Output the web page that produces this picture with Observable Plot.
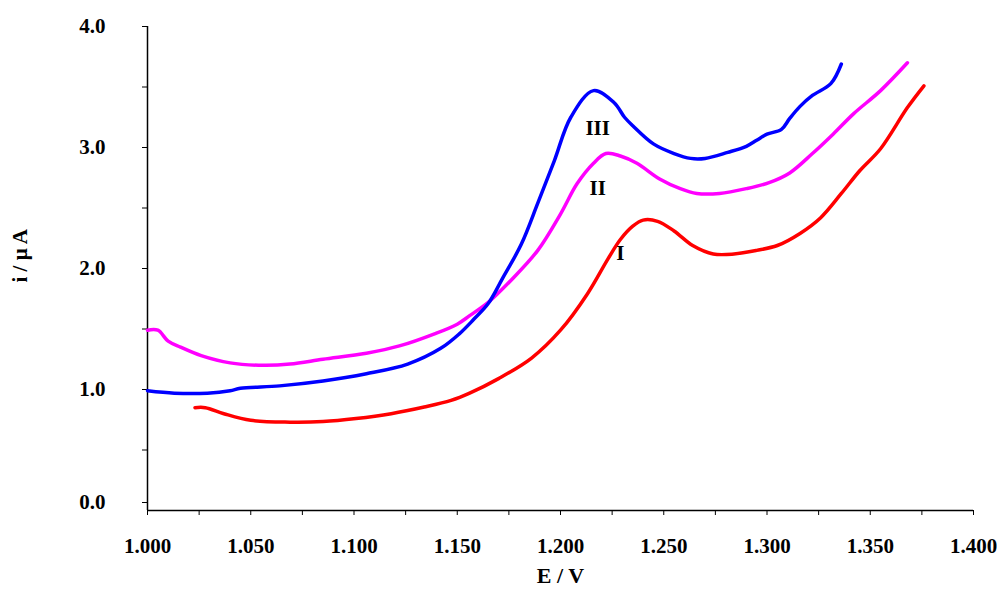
<!DOCTYPE html>
<html><head><meta charset="utf-8">
<script src="https://cdn.jsdelivr.net/npm/d3@7"></script>
<script src="https://cdn.jsdelivr.net/npm/@observablehq/plot@0.6"></script>
<style>body{margin:0;background:#fff}</style>
</head><body><div id="chart"></div>
<script>
// Curve I (red)
const curveI_E = [1.023,1.028,1.037,1.050,1.069,1.085,1.101,1.118,1.134,1.147,1.156,1.170,1.186,1.200,1.213,1.223,1.229,1.235,1.240,1.247,1.255,1.264,1.274,1.284,1.295,1.305,1.316,1.326,1.336,1.345,1.355,1.368,1.376];
const curveI_i = [0.85,0.85,0.80,0.745,0.73,0.735,0.76,0.80,0.855,0.91,0.97,1.09,1.26,1.49,1.79,2.08,2.24,2.35,2.40,2.39,2.31,2.19,2.12,2.12,2.15,2.19,2.29,2.42,2.62,2.81,2.99,3.33,3.51];
// Curve II (magenta)
const curveII_E = [1.000,1.005,1.010,1.016,1.026,1.040,1.056,1.069,1.085,1.106,1.122,1.139,1.150,1.156,1.165,1.177,1.189,1.200,1.208,1.216,1.222,1.229,1.237,1.248,1.258,1.266,1.277,1.290,1.301,1.311,1.322,1.332,1.342,1.355,1.368];
const curveII_i = [1.49,1.49,1.40,1.35,1.28,1.22,1.20,1.21,1.25,1.30,1.36,1.46,1.54,1.61,1.72,1.92,2.15,2.45,2.70,2.87,2.95,2.93,2.87,2.74,2.66,2.62,2.62,2.66,2.71,2.79,2.95,3.11,3.28,3.47,3.70];
// Curve III (blue)
const curveIII_E = [1.000,1.013,1.029,1.040,1.045,1.064,1.085,1.106,1.126,1.142,1.151,1.158,1.165,1.172,1.181,1.189,1.197,1.205,1.216,1.226,1.231,1.235,1.245,1.255,1.263,1.270,1.281,1.290,1.295,1.300,1.307,1.311,1.316,1.322,1.331,1.336];
const curveIII_i = [0.99,0.97,0.97,0.99,1.01,1.03,1.07,1.13,1.21,1.34,1.46,1.58,1.71,1.92,2.20,2.54,2.89,3.25,3.47,3.37,3.25,3.18,3.03,2.95,2.91,2.91,2.96,3.01,3.06,3.11,3.15,3.24,3.34,3.43,3.53,3.69];

const curveNames = ["I", "II", "III"];
const curveColors = ["#ff0000", "#ff00ff", "#0000ff"];
const labelE = [1.229, 1.218, 1.218];
const labelI = [2.13, 2.66, 3.16];

const xMajor = [1.000,1.050,1.100,1.150,1.200,1.250,1.300,1.350,1.400];
const xMinor = [1.025,1.075,1.125,1.175,1.225,1.275,1.325,1.375];
const yMajor = [1,2,3,4];
const yZero = [0];
const yMinor = [0.5,1.5,2.5,3.5];

const rows = [];
[[curveI_E, curveI_i], [curveII_E, curveII_i], [curveIII_E, curveIII_i]].forEach(([E, I], k) => {
  E.forEach((e, j) => rows.push({curve: curveNames[k], E: e, i: I[j]}));
});
const labels = curveNames.map((n, k) => ({curve: n, E: labelE[k], i: labelI[k]}));

const chart = Plot.plot({
  width: 997, height: 589,
  marginLeft: 147, marginRight: 24, marginTop: 26, marginBottom: 79,
  x: {domain: [1, 1.4]},
  y: {domain: [0, 4]},
  color: {domain: curveNames, range: curveColors},
  style: {fontFamily: "'Liberation Serif', 'Times New Roman', serif", fontSize: "21px", fontWeight: "bold", color: "black", background: "white"},
  marks: [
    Plot.axisX({ticks: xMinor, tickFormat: () => "", tickSize: 5, label: null}),
    Plot.axisX({ticks: xMajor, tickFormat: d3.format(".3f"), tickSize: 5, tickPadding: 23, label: null, fontSize: 21}),
    Plot.axisY({ticks: yMinor, tickFormat: () => "", tickSize: 5, label: null}),
    Plot.axisY({ticks: yMajor, tickFormat: d3.format(".1f"), tickSize: 5, tickPadding: 37, label: null, fontSize: 21}),
    Plot.axisY({ticks: yZero, tickFormat: d3.format(".1f"), tickSize: 5, tickPadding: 37, label: null, fontSize: 21, dy: -8}),
    Plot.ruleX([1], {y1: 0, y2: 4, stroke: "black", strokeWidth: 1.5}),
    Plot.ruleY([0], {x1: 1, x2: 1.4, stroke: "black", strokeWidth: 1.5}),
    Plot.line(rows, {x: "E", y: "i", z: "curve", stroke: "curve", strokeWidth: 3.5, curve: "catmull-rom"}),
    Plot.text(labels, {x: "E", y: "i", text: "curve", fontSize: 21, fontWeight: "bold", fill: "black"}),
    Plot.text(["i / µ A"], {frameAnchor: "left", dx: -127, dy: 14, rotate: -90, fontSize: 21, fontWeight: "bold"}),
    Plot.text(["E / V"], {frameAnchor: "bottom", dy: 72, fontSize: 22, fontWeight: "bold"})
  ]
});
document.getElementById("chart").appendChild(chart);
</script>
</body></html>
